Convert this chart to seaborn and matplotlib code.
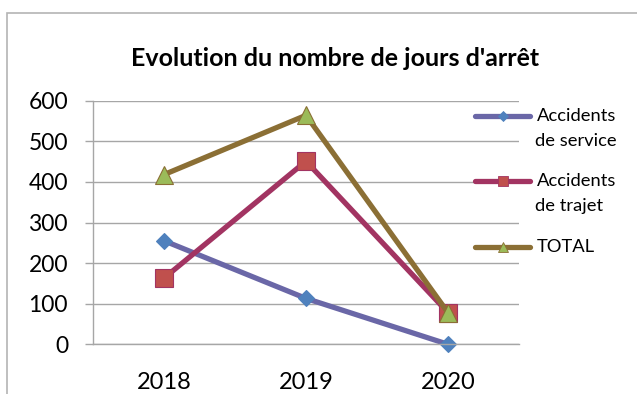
import matplotlib
matplotlib.use("Agg")
import matplotlib.pyplot as plt
from matplotlib.patches import Rectangle
from matplotlib.lines import Line2D
import seaborn as sns
import pandas as pd

years = ["2018", "2019", "2020"]
accidents_service = [255, 113, 0]
accidents_trajet = [163, 451, 78]
total = [418, 564, 78]
series_labels = [("Accidents", "de service"), ("Accidents", "de trajet"), ("TOTAL", "")]
y_ticks = [0, 100, 200, 300, 400, 500, 600]

sns.set_theme(style="white")
plt.rcParams["font.family"] = ["Lato", "DejaVu Sans"]
plt.rcParams["text.color"] = "black"
plt.rcParams["xtick.labelcolor"] = "black"
plt.rcParams["ytick.labelcolor"] = "black"

W, H = 637, 394
fig = plt.figure(figsize=(W / 100, H / 100), dpi=100)
fig.patch.set_facecolor("white")


def fx(px):
    return px / W


def fy(py):
    return (H - py) / H


# chart frame
fig.add_artist(Rectangle((fx(7), -0.05), 1.1, fy(13) + 0.05,
                         transform=fig.transFigure, fill=False,
                         edgecolor="#b4b4b4", linewidth=1.2))

ax = fig.add_axes([fx(93), fy(344.3), fx(519) - fx(93), fy(100.7) - fy(344.3)])

styles = [
    # values, line colour, marker, face, edge, size, legend size
    (accidents_service, "#6a67a7", "D", "#4f81bd", "#4f81bd", 8.5, 5),
    (accidents_trajet, "#a23462", "s", "#c0504d", "#a23462", 13, 7),
    (total, "#8b6f35", "^", "#9bbb59", "#8b6f35", 13, 7.5),
]
for vals, lc, mk, mfc, mec, ms, _ in styles:
    df = pd.DataFrame({"year": years, "value": vals})
    sns.lineplot(data=df, x="year", y="value", ax=ax, color=lc, linewidth=3.8,
                 marker=mk, markersize=ms, markerfacecolor=mfc,
                 markeredgecolor=mec, markeredgewidth=0.8, sort=False,
                 clip_on=False)

ax.set_xlim(-0.5, 2.5)
ax.set_ylim(0, 600)
ax.set_yticks(y_ticks)
ax.set_yticklabels([str(v) for v in y_ticks], fontsize=16.5, color="black")
ax.set_xticks(range(len(years)))
ax.set_xticklabels(years, fontsize=17, color="black")
ax.set_xticks([-0.5, 0.5, 1.5, 2.5], minor=True)
ax.tick_params(axis="x", which="major", length=0, pad=20)
ax.tick_params(axis="x", which="minor", length=8, color="#a6a6a6", width=1)
ax.tick_params(axis="y", length=6, color="#a6a6a6", width=1, pad=12, left=True)
ax.set_xlabel("")
ax.set_ylabel("")
ax.grid(axis="y", color="#a6a6a6", linewidth=1)
ax.set_axisbelow(True)
for side in ["top", "right"]:
    ax.spines[side].set_visible(False)
for side in ["left", "bottom"]:
    ax.spines[side].set_color("#a6a6a6")
    ax.spines[side].set_linewidth(1)

fig.text(fx(335), fy(58), "Evolution du nombre de jours d'arrêt",
         ha="center", va="center", fontsize=18, fontweight="bold", color="black")

# legend entries: sample line with marker, label wrapped on two lines
legend_rows = [116, 181, 247]
for (vals, lc, mk, mfc, mec, ms, lms), (l1, l2), yrow in zip(styles, series_labels, legend_rows):
    fig.add_artist(Line2D([fx(475), fx(530)], [fy(yrow), fy(yrow)], color=lc,
                          linewidth=3.8, solid_capstyle="round",
                          transform=fig.transFigure))
    fig.add_artist(Line2D([fx(502.5)], [fy(yrow)], marker=mk, markersize=lms,
                          markerfacecolor=mfc, markeredgecolor=mec,
                          markeredgewidth=0.6, linestyle="none",
                          transform=fig.transFigure))
    fig.text(fx(537), fy(yrow), l1, ha="left", va="center", fontsize=13.2, color="black")
    if l2:
        fig.text(fx(535), fy(yrow + 25), l2, ha="left", va="center", fontsize=13.2,
                 color="black")

fig.savefig("out.png", dpi=100)
